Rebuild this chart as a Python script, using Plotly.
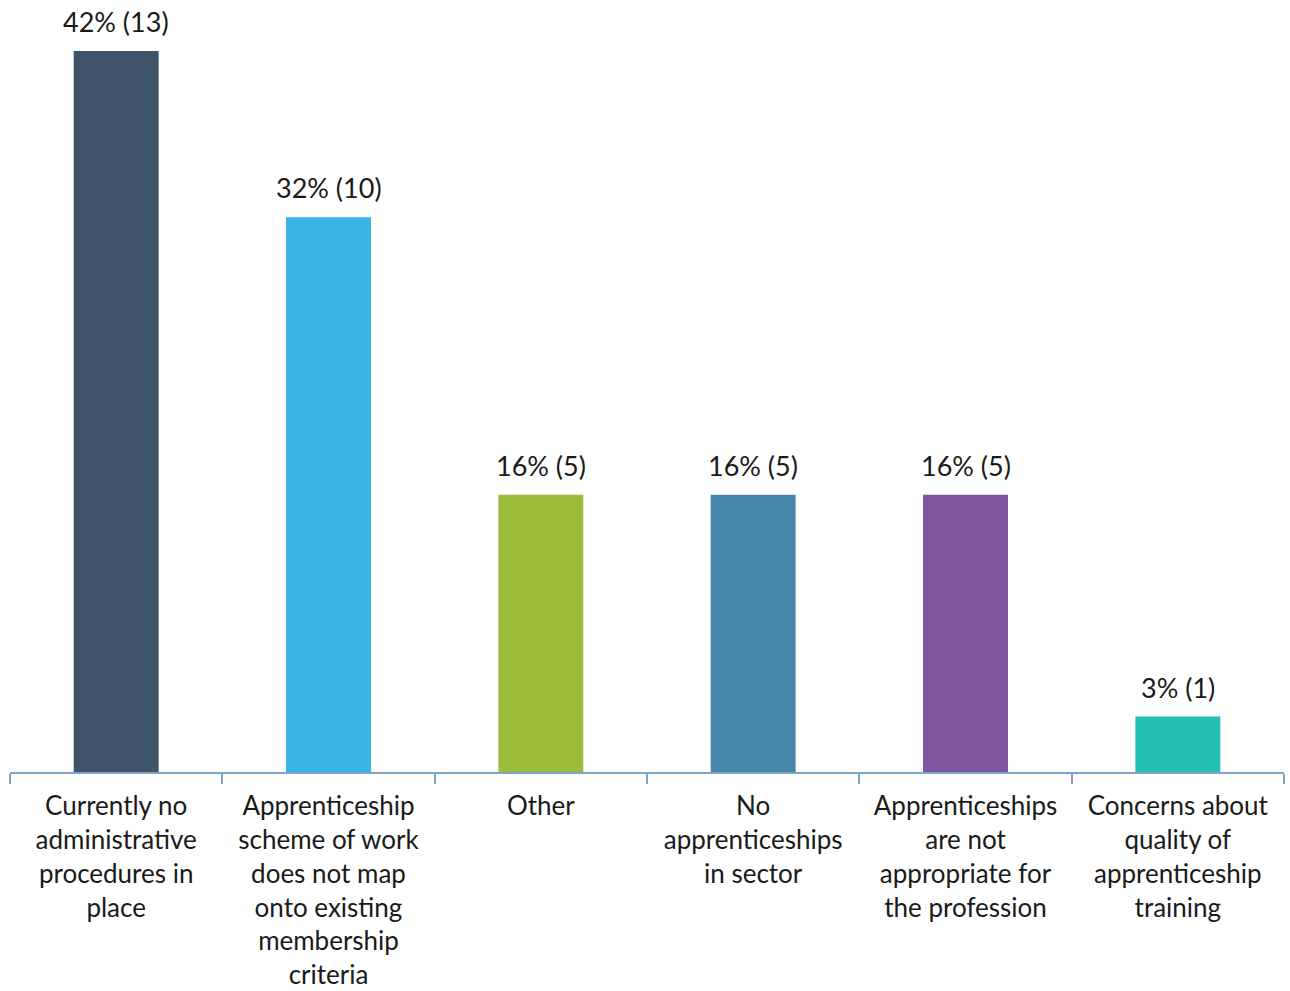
import plotly.graph_objects as go

categories = [
    "Currently no<br>administrative<br>procedures in<br>place",
    "Apprenticeship<br>scheme of work<br>does not map<br>onto existing<br>membership<br>criteria",
    "Other",
    "No<br>apprenticeships<br>in sector",
    "Apprenticeships<br>are not<br>appropriate for<br>the profession",
    "Concerns about<br>quality of<br>apprenticeship<br>training",
]
counts = [13, 10, 5, 5, 5, 1]
percent_labels = ["42%", "32%", "16%", "16%", "16%", "3%"]
total = 31
colors = ["#3D5469", "#38B5E6", "#9BBB3A", "#4586AB", "#7D55A0", "#23BEB3"]

values = [c / total * 100 for c in counts]
labels = [f"{p} ({c})" for p, c in zip(percent_labels, counts)]

fig = go.Figure(go.Bar(
    x=categories, y=values, marker=dict(color=colors, line=dict(width=0)),
    hoverinfo="skip",
))

for x, y, t in zip(categories, values, labels):
    fig.add_annotation(x=x, y=y, text=t, showarrow=False, yanchor="bottom",
                       yshift=11, font=dict(family="Lato", size=27, color="#1a1a1a"))

fig.update_layout(
    width=1290, height=991,
    margin=dict(l=10, r=6, t=0, b=219, autoexpand=False),
    paper_bgcolor="white", plot_bgcolor="white",
    bargap=0.6, showlegend=False,
    font=dict(family="Lato", size=26, color="#1a1a1a"),
)
fig.update_xaxes(
    showline=True, linecolor="#7FA5C9", linewidth=2,
    ticks="outside", tickson="boundaries", ticklen=10, tickcolor="#7FA5C9", tickwidth=2,
    tickfont=dict(family="Lato", size=26, color="#1a1a1a"),
    ticklabelstandoff=10, automargin=False,
    showgrid=False, tickangle=0,
)
fig.update_yaxes(range=[0, 44.9], visible=False, showgrid=False, automargin=False)

fig.write_html("out.html")
